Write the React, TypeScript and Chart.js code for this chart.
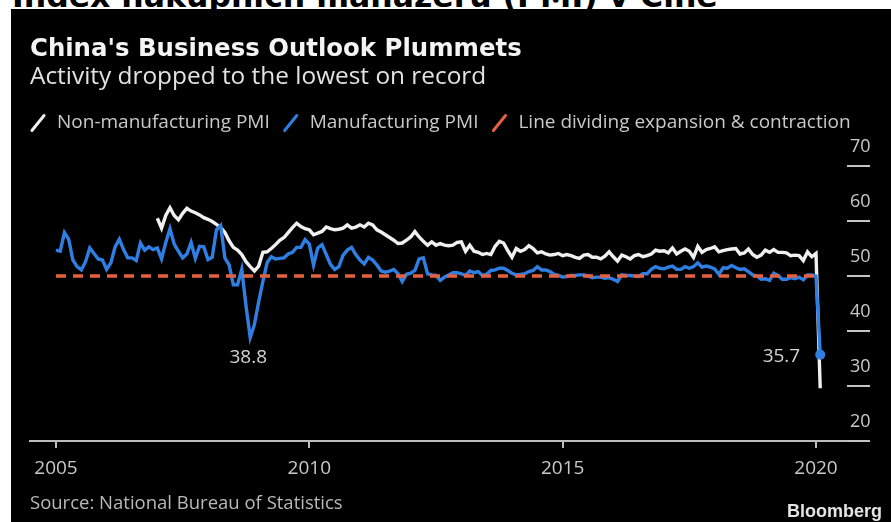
import React, { useEffect, useRef } from 'react';
import { Chart, registerables } from 'chart.js';

Chart.register(...registerables);

const FONT = "'Open Sans', sans-serif";

// ---- data ----
const mfgStartYear = 2005; // Jan 2005, monthly
const mfgPMI = [
  54.7, 54.5, 57.9, 56.7, 52.9, 51.7, 51.1, 52.6, 55.1, 54.1, 53.1, 52.9,
  51.2, 52.4, 55.3, 56.7, 54.8, 53.3, 53.3, 52.8, 56.0, 54.7, 55.3, 54.8,
  55.1, 53.1, 56.1, 58.6, 55.8, 54.5, 53.3, 54.0, 56.1, 53.2, 55.4, 55.3,
  53.0, 53.4, 58.4, 59.2, 53.3, 52.0, 48.4, 48.4, 51.2, 44.6, 38.8, 41.2,
  45.3, 49.0, 52.4, 53.5, 53.1, 53.2, 53.3, 54.0, 54.3, 55.2, 55.2, 56.6,
  55.8, 52.0, 55.1, 55.7, 53.9, 52.1, 51.2, 51.7, 53.8, 54.7, 55.2, 53.9,
  52.9, 52.2, 53.4, 52.9, 52.0, 50.9, 50.7, 50.9, 51.2, 50.4, 49.0, 50.3,
  50.5, 51.0, 53.1, 53.3, 50.4, 50.2, 50.1, 49.2, 49.8, 50.2, 50.6, 50.6,
  50.4, 50.1, 50.9, 50.6, 50.8, 50.1, 50.3, 51.0, 51.1, 51.4, 51.4, 51.0,
  50.5, 50.2, 50.3, 50.4, 50.8, 51.0, 51.7, 51.1, 51.1, 50.8, 50.3, 50.1,
  49.8, 49.9, 50.1, 50.1, 50.2, 50.2, 50.0, 49.7, 49.8, 49.8, 49.6, 49.7,
  49.4, 49.0, 50.2, 50.1, 50.1, 50.0, 49.9, 50.4, 50.4, 51.2, 51.7, 51.4,
  51.3, 51.6, 51.8, 51.2, 51.2, 51.7, 51.4, 51.7, 52.4, 51.6, 51.8, 51.6,
  51.3, 50.3, 51.5, 51.4, 51.9, 51.5, 51.2, 51.3, 50.8, 50.2, 50.0, 49.4,
  49.5, 49.2, 50.5, 50.1, 49.4, 49.4, 49.7, 49.5, 49.8, 49.3, 50.2, 50.2,
  50.0, 35.7,
];

const nonMfgStartYear = 2007; // Jan 2007, monthly
const nonMfgPMI = [
  60.5, 58.7, 61.0, 62.4, 61.0, 60.2, 61.4, 62.3, 61.8, 61.5, 61.1, 60.6,
  60.3, 59.9, 59.4, 58.8, 57.9, 56.4, 55.2, 54.7, 53.9, 52.6, 51.7, 50.9,
  51.8, 54.3, 54.4, 55.0, 55.7, 56.5, 57.0, 57.9, 58.8, 59.6, 59.0, 58.6,
  58.4, 57.5, 57.8, 58.1, 58.9, 58.6, 58.4, 58.5, 58.7, 59.3, 58.7, 58.9,
  59.3, 58.9, 59.6, 59.3, 58.4, 58.0, 57.5, 57.0, 56.5, 55.9, 56.0, 56.5,
  57.1, 58.1, 57.1, 56.3, 55.6, 56.2, 55.6, 55.9, 55.6, 55.5, 55.6, 56.1,
  56.2, 54.5, 55.6, 54.5, 54.3, 53.9, 54.1, 53.9, 55.4, 56.3, 56.0, 54.6,
  53.4, 55.0, 54.5, 54.8, 55.5, 55.0, 54.2, 54.4, 54.0, 53.8, 53.9, 54.1,
  53.7, 53.9, 53.7, 53.4, 53.2, 53.8, 53.9, 53.4, 53.4, 53.1, 53.6, 54.4,
  53.5, 52.7, 53.8, 53.5, 53.1, 53.7, 53.9, 53.5, 53.7, 54.0, 54.7, 54.5,
  54.6, 54.2, 55.1, 54.0, 54.5, 54.9, 54.5, 53.4, 55.4, 54.3, 54.8, 55.0,
  55.3, 54.4, 54.6, 54.8, 54.9, 55.0, 54.0, 54.2, 54.9, 53.9, 53.4, 53.8,
  54.7, 54.3, 54.8, 54.3, 54.3, 54.2, 53.7, 53.8, 53.7, 52.8, 54.4, 53.5,
  54.1, 29.6,
];

const dividingLine = 50;
const xTickYears = [2005, 2010, 2015, 2020];
const yTickValues = [20, 30, 40, 50, 60, 70];
const seriesLabels = [
  'Non-manufacturing PMI',
  'Manufacturing PMI',
  'Line dividing expansion & contraction',
];

const WHITE = '#f0f0f0';
const BLUE = '#2f7fe3';
const RED = '#e5603e';
const TEXT = '#c9c9c9';

export default function App() {
  const ref = useRef<HTMLCanvasElement>(null);

  useEffect(() => {
    const canvas = ref.current;
    if (!canvas) return;
    const toPoints = (vals: number[], start: number) =>
      vals.map((v, i) => ({ x: start + i / 12, y: v }));
    const mfgPts = toPoints(mfgPMI, mfgStartYear);
    const nonPts = toPoints(nonMfgPMI, nonMfgStartYear);
    const lastMfg = mfgPts.length - 1;
    let minIdx = 0;
    mfgPMI.forEach((v, i) => { if (v < mfgPMI[minIdx] && i !== lastMfg) minIdx = i; });
    const linePts = [
      { x: mfgPts[0].x, y: dividingLine },
      { x: mfgPts[lastMfg].x, y: dividingLine },
    ];

    const valueLabels = {
      id: 'valueLabels',
      afterDatasetsDraw(chart: any) {
        const { ctx, scales } = chart;
        const xs = scales.x, ys = scales.y;
        ctx.save();
        ctx.font = `19px ${FONT}`;
        ctx.fillStyle = '#d2d2d2';
        ctx.textBaseline = 'middle';
        const p1 = mfgPts[minIdx];
        ctx.textAlign = 'center';
        ctx.fillText(p1.y.toFixed(1), xs.getPixelForValue(p1.x) - 2, ys.getPixelForValue(p1.y) + 20);
        const p2 = mfgPts[lastMfg];
        ctx.textAlign = 'right';
        ctx.fillText(p2.y.toFixed(1), xs.getPixelForValue(p2.x) - 20, ys.getPixelForValue(p2.y) + 2);
        ctx.restore();
      },
    };

    const chart = new Chart(canvas, {
      type: 'line',
      data: {
        datasets: [
          {
            label: seriesLabels[0], data: nonPts, borderColor: WHITE, backgroundColor: WHITE,
            borderWidth: 3.4, pointRadius: 0, tension: 0, order: 3,
          },
          {
            label: seriesLabels[1], data: mfgPts, borderColor: BLUE, backgroundColor: BLUE,
            borderWidth: 3.4, tension: 0, order: 2,
            pointRadius: (c: any) => (c.dataIndex === lastMfg ? 5 : 0),
            pointBorderWidth: 0, pointBackgroundColor: BLUE,
          },
          {
            label: seriesLabels[2], data: linePts, borderColor: RED, backgroundColor: RED,
            borderWidth: 3.4, borderDash: [10, 7], pointRadius: 0, order: 1,
          },
        ] as any,
      },
      plugins: [valueLabels],
      options: {
        animation: false,
        responsive: true,
        maintainAspectRatio: false,
        events: [],
        layout: { padding: { left: 17, right: 0, top: 102, bottom: 33.2 } },
        plugins: {
          tooltip: { enabled: false },
          title: { display: false },
          legend: {
            display: true,
            position: 'top',
            align: 'start',
            labels: {
              color: TEXT,
              font: { family: FONT, size: 19 },
              usePointStyle: true,
              boxWidth: 19,
              boxHeight: 13.6,
              padding: 11.5,
              generateLabels: (ch: any) =>
                ch.data.datasets.map((ds: any, i: number) => ({
                  text: ds.label,
                  fillStyle: ds.borderColor,
                  strokeStyle: ds.borderColor,
                  fontColor: TEXT,
                  lineWidth: 3,
                  lineCap: 'round',
                  lineDash: [],
                  pointStyle: 'line',
                  rotation: -51,
                  hidden: false,
                  datasetIndex: i,
                })),
            },
          },
        },
        scales: {
          x: {
            type: 'linear',
            min: 2004.487,
            max: 2020.612,
            afterBuildTicks: (axis: any) => { axis.ticks = xTickYears.map((v) => ({ value: v })); },
            border: { display: true, color: '#bdbdbd', width: 2 },
            grid: { drawOnChartArea: false, drawTicks: true, tickLength: 7, color: '#bdbdbd', lineWidth: 2 },
            ticks: {
              color: TEXT, font: { family: FONT, size: 19 }, padding: 9,
              maxRotation: 0, autoSkip: false,
              callback: (v: any) => String(v),
            },
          },
          y: {
            type: 'linear',
            position: 'right',
            min: 20,
            max: 74.27,
            afterBuildTicks: (axis: any) => { axis.ticks = yTickValues.map((v) => ({ value: v })); },
            afterFit: (axis: any) => { axis.width = 44; },
            border: { display: false },
            grid: { drawOnChartArea: false, drawTicks: true, tickLength: 23, color: '#c4c4c4', lineWidth: 2 },
            ticks: {
              color: TEXT, font: { family: FONT, size: 18 }, padding: -20, labelOffset: -19,
              crossAlign: 'near', autoSkip: false,
              callback: (v: any) => String(v),
            },
          },
          yPad: {
            type: 'linear',
            position: 'left',
            display: true,
            afterFit: (axis: any) => { axis.width = 13; },
            border: { display: false },
            grid: { display: false },
            ticks: { display: false },
          },
        } as any,
      },
    });
    return () => chart.destroy();
  }, []);

  return (
    <div style={{ position: 'fixed', left: 0, top: 0, width: 891, height: 522, background: '#fff', overflow: 'hidden' }}>
      <div style={{ position: 'absolute', left: 12, top: -18.9, font: "bold 31.5px 'DejaVu Sans', sans-serif", lineHeight: '31.5px', color: '#000', whiteSpace: 'nowrap' }}>
        Index nákupních manažerů (PMI) v Číně
      </div>
      <div style={{ position: 'absolute', left: 11, top: 9, right: 0, bottom: 0, background: '#000' }} />
      <div style={{ position: 'absolute', left: 0, top: 0, width: 891, height: 522 }}>
        <canvas ref={ref} />
      </div>
      <div style={{ position: 'absolute', left: 30, top: 36.4, font: "bold 24.4px 'DejaVu Sans', sans-serif", lineHeight: '24.4px', color: '#f4f4f4', whiteSpace: 'nowrap' }}>
        China's Business Outlook Plummets
      </div>
      <div style={{ position: 'absolute', left: 30, top: 63.3, font: `24.4px ${FONT}`, lineHeight: '24.4px', color: '#e2e2e2', whiteSpace: 'nowrap' }}>
        Activity dropped to the lowest on record
      </div>
      <div style={{ position: 'absolute', left: 30, top: 492.6, font: `18.5px ${FONT}`, lineHeight: '18.5px', color: '#b9b9b9', whiteSpace: 'nowrap' }}>
        Source: National Bureau of Statistics
      </div>
      <div style={{ position: 'absolute', right: 9, top: 502, font: "bold 18px 'Liberation Sans', Arial, sans-serif", lineHeight: '18px', color: '#e4e4e4', whiteSpace: 'nowrap' }}>
        Bloomberg
      </div>
    </div>
  );
}
